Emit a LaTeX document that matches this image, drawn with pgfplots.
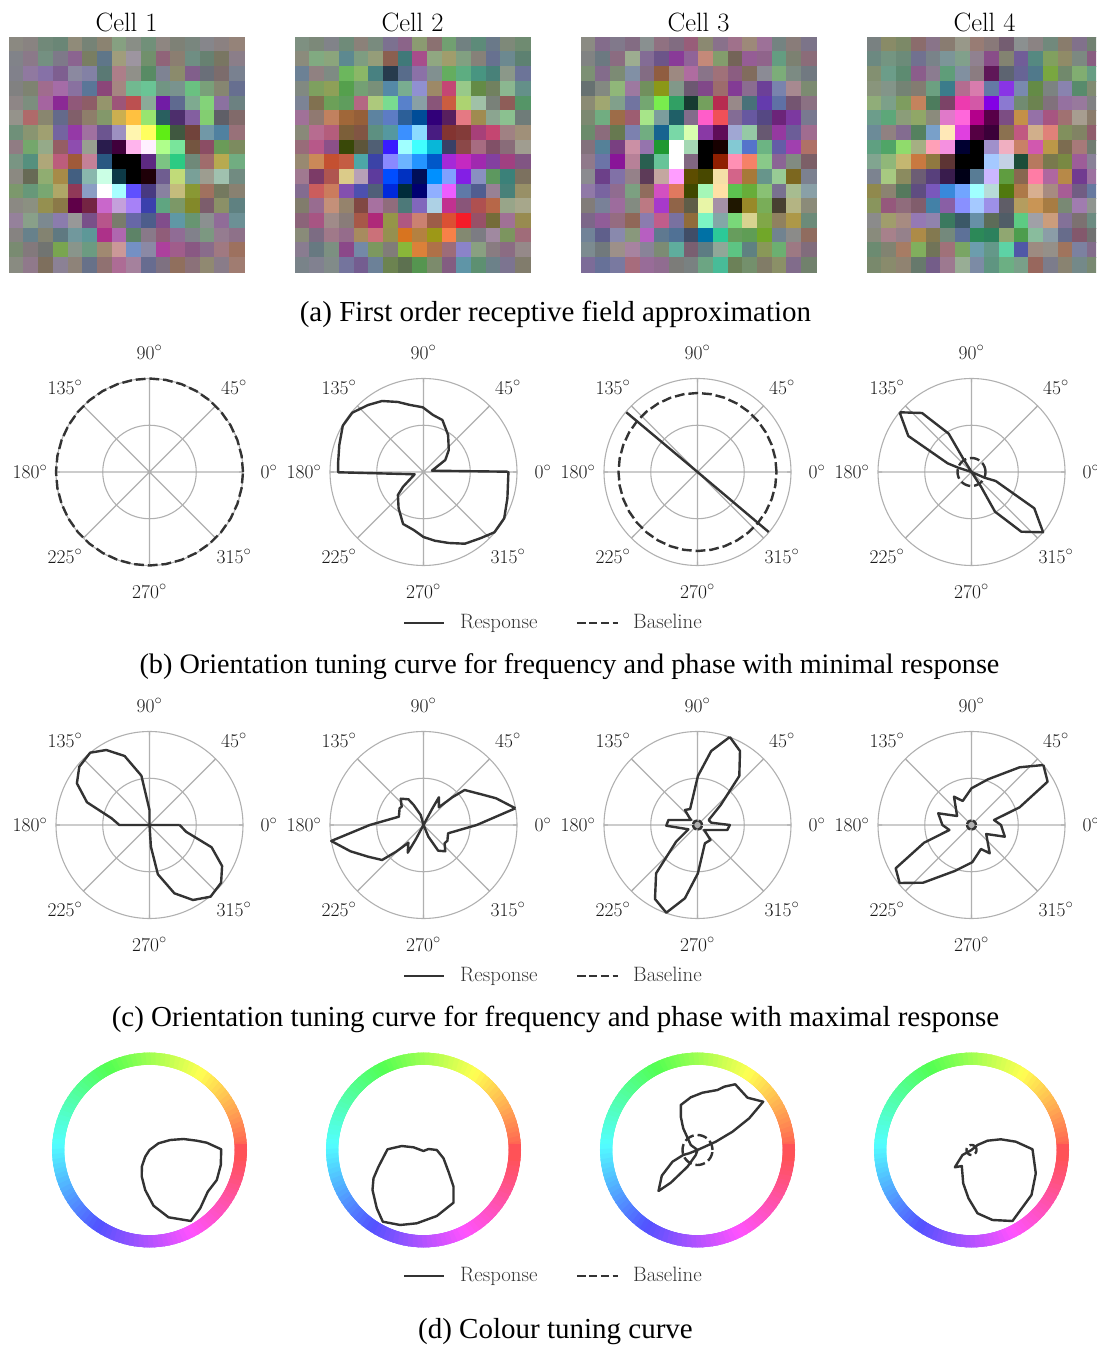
\documentclass[border=0pt]{standalone}
\usepackage{fontspec}
\usepackage{pgfplots}
\usepgfplotslibrary{polar}
\pgfplotsset{compat=1.18}
\newfontfamily\capfont{Liberation Serif}
\definecolor{cv}{HTML}{333333}
\definecolor{gr}{HTML}{B0B0B0}
\pgfplotsset{
 hm/.style={scale only axis,width=235pt,height=235pt,anchor=south west,hide axis,
   xmin=-0.5,xmax=15.5,ymin=-0.5,ymax=15.5,y dir=reverse,clip=false},
 pol/.style={scale only axis,width=187pt,height=187pt,anchor=center,clip=false,
   xmin=0,xmax=360,ymin=0,ymax=93.5,
   xtick={0,45,90,135,180,225,270,315},ytick={46.75},
   xticklabels={},yticklabels={},
   xmajorgrids,ymajorgrids,
   grid style={gr,line width=1.1pt},
   x axis line style={gr,line width=1.1pt},
   y axis line style={draw=none},
   tick align=outside,major tick length=4pt,
   xtick style={gr,line width=1.1pt},ytick style={draw=none}},
 wheel/.style={scale only axis,width=195pt,height=195pt,anchor=center,clip=false,hide axis,
   xmin=0,xmax=360,ymin=0,ymax=97.5,
   colormap={hue}{rgb255=(255,82,82) rgb255=(255,255,82) rgb255=(82,255,82) rgb255=(82,255,255) rgb255=(82,82,255) rgb255=(255,82,255) rgb255=(255,82,82)},
   point meta min=0,point meta max=360},
 resp/.style={cv,line width=2.4pt,line join=round,data cs=cart,no markers},
 base/.style={cv,line width=2.4pt,dash pattern=on 9.8pt off 3.9pt,no markers}
}
\newcommand\cellmap[1]{\addplot[matrix plot*,mesh/cols=16,mesh/rows=16,mesh/ordering=x varies,
  mesh/color input=explicit mathparse,
  point meta={symbolic={\thisrow{r}/99,\thisrow{g}/99,\thisrow{b}/99}}]
  table[row sep=\\,x expr={mod(\coordindex,16)},y expr={floor((\coordindex+0.5)/16)}]{#1};}
\newcommand\labs{\pgfplotsinvokeforeach{0,45,90,135,180,225,270,315}{\node[text=black!90,font=\fontsize{19.5}{21}\selectfont] at (axis cs:##1,119.5) {##1$^\circ$};}}
\newcommand\basec[1]{\addplot[base] coordinates {(0,#1)(10,#1)(20,#1)(30,#1)(40,#1)(50,#1)(60,#1)(70,#1)(80,#1)(90,#1)(100,#1)(110,#1)(120,#1)(130,#1)(140,#1)(150,#1)(160,#1)(170,#1)(180,#1)(190,#1)(200,#1)(210,#1)(220,#1)(230,#1)(240,#1)(250,#1)(260,#1)(270,#1)(280,#1)(290,#1)(300,#1)(310,#1)(320,#1)(330,#1)(340,#1)(350,#1)(360,#1)};}
\newcommand\smallbase{\addplot[cv,line width=2.4pt,no markers,fill=gr,dash pattern=on 6pt off 1pt] coordinates {(0,4.5)(30,4.5)(60,4.5)(90,4.5)(120,4.5)(150,4.5)(180,4.5)(210,4.5)(240,4.5)(270,4.5)(300,4.5)(330,4.5)(360,4.5)};}
\newcommand\wring{\addplot[mesh,line width=12pt,line cap=rect,point meta=x] coordinates {(0,91.2)(3,91.2)(6,91.2)(9,91.2)(12,91.2)(15,91.2)(18,91.2)(21,91.2)(24,91.2)(27,91.2)(30,91.2)(33,91.2)(36,91.2)(39,91.2)(42,91.2)(45,91.2)(48,91.2)(51,91.2)(54,91.2)(57,91.2)(60,91.2)(63,91.2)(66,91.2)(69,91.2)(72,91.2)(75,91.2)(78,91.2)(81,91.2)(84,91.2)(87,91.2)(90,91.2)(93,91.2)(96,91.2)(99,91.2)(102,91.2)(105,91.2)(108,91.2)(111,91.2)(114,91.2)(117,91.2)(120,91.2)(123,91.2)(126,91.2)(129,91.2)(132,91.2)(135,91.2)(138,91.2)(141,91.2)(144,91.2)(147,91.2)(150,91.2)(153,91.2)(156,91.2)(159,91.2)(162,91.2)(165,91.2)(168,91.2)(171,91.2)(174,91.2)(177,91.2)(180,91.2)(183,91.2)(186,91.2)(189,91.2)(192,91.2)(195,91.2)(198,91.2)(201,91.2)(204,91.2)(207,91.2)(210,91.2)(213,91.2)(216,91.2)(219,91.2)(222,91.2)(225,91.2)(228,91.2)(231,91.2)(234,91.2)(237,91.2)(240,91.2)(243,91.2)(246,91.2)(249,91.2)(252,91.2)(255,91.2)(258,91.2)(261,91.2)(264,91.2)(267,91.2)(270,91.2)(273,91.2)(276,91.2)(279,91.2)(282,91.2)(285,91.2)(288,91.2)(291,91.2)(294,91.2)(297,91.2)(300,91.2)(303,91.2)(306,91.2)(309,91.2)(312,91.2)(315,91.2)(318,91.2)(321,91.2)(324,91.2)(327,91.2)(330,91.2)(333,91.2)(336,91.2)(339,91.2)(342,91.2)(345,91.2)(348,91.2)(351,91.2)(354,91.2)(357,91.2)(360,91.2)};}
\newcommand\legendat[1]{%
 \draw[cv,line width=2.4pt] (404pt,#1pt)--(444pt,#1pt);
 \node[anchor=mid west,inner sep=0pt,text=cv,font=\fontsize{20.8}{22}\selectfont] at (460pt,#1pt-3.5pt) {Response};
 \draw[cv,line width=2.4pt,dash pattern=on 8.5pt off 3.4pt] (577pt,#1pt)--(618pt,#1pt);
 \node[anchor=mid west,inner sep=0pt,text=cv,font=\fontsize{20.8}{22}\selectfont] at (633pt,#1pt-3.5pt) {Baseline};}
\newcommand\capt[4]{\node[font=\capfont\fontsize{#4}{30}\selectfont,inner sep=0pt] at (#1pt,#2pt) {#3};}
\begin{document}
\begin{tikzpicture}
\useasboundingbox (0,0) rectangle (1096pt,1345pt);
\clip (0,0) rectangle (1096pt,1345pt);
\foreach \x/\t in {126.5/Cell 1,412.5/Cell 2,698.5/Cell 3,984.5/Cell 4}
  \node[font=\fontsize{26.5}{28}\selectfont] at (\x pt,1323pt) {\t};

\begin{axis}[hm,at={(9pt,1073pt)}]
\cellmap{r g b\\
54 53 50\\53 51 50\\44 53 47\\41 52 46\\56 54 47\\46 51 46\\54 51 44\\52 62 50\\53 55 52\\44 56 47\\55 52 50\\49 50 46\\47 52 49\\52 52 54\\54 50 50\\58 51 47\\
50 51 53\\54 47 53\\45 56 50\\49 47 53\\54 39 56\\47 49 38\\37 46 53\\62 61 48\\61 58 62\\44 56 42\\56 39 47\\54 49 44\\43 55 51\\40 50 44\\47 46 38\\54 49 53\\
50 50 54\\56 47 62\\52 44 65\\49 37 56\\54 53 62\\51 50 64\\35 47 45\\67 49 53\\56 56 53\\34 54 39\\49 51 57\\54 54 42\\50 37 54\\41 43 47\\48 42 42\\47 50 56\\
50 50 50\\49 51 44\\62 42 55\\64 42 65\\53 44 62\\35 46 59\\54 27 47\\64 52 50\\44 72 56\\41 76 58\\44 58 51\\47 57 55\\41 75 50\\47 62 47\\52 52 44\\40 43 56\\
55 52 52\\48 55 49\\64 39 62\\54 16 58\\56 34 47\\55 36 40\\58 58 42\\61 33 47\\73 31 31\\54 66 59\\44 11 64\\37 41 56\\49 66 56\\51 82 47\\54 44 62\\42 50 50\\
58 57 54\\68 41 41\\53 52 43\\39 41 54\\50 37 41\\55 49 41\\51 59 41\\79 68 31\\99 75 25\\59 89 43\\16 37 37\\30 18 42\\51 37 62\\51 80 44\\37 37 40\\50 41 41\\
43 56 47\\53 58 44\\62 62 44\\45 39 62\\58 22 65\\62 44 62\\42 33 56\\61 56 75\\99 95 68\\99 99 37\\37 92 8\\25 34 25\\44 26 23\\44 59 65\\31 50 62\\59 44 47\\
56 48 51\\45 65 42\\58 66 53\\58 36 39\\55 30 68\\59 62 56\\16 11 30\\25 0 23\\99 70 92\\99 93 99\\68 99 54\\47 89 60\\45 33 25\\54 30 39\\41 60 34\\48 54 37\\
47 58 51\\33 56 49\\68 65 47\\73 36 48\\62 35 22\\76 50 59\\16 34 50\\0 0 0\\0 0 0\\36 16 50\\48 76 51\\17 79 51\\43 53 47\\62 42 42\\71 66 31\\44 67 50\\
54 53 50\\40 41 33\\56 67 44\\65 54 28\\26 37 50\\53 71 67\\79 99 89\\5 22 27\\0 0 0\\12 0 3\\43 36 56\\75 85 47\\47 62 59\\61 61 56\\62 75 68\\44 54 50\\
48 59 42\\40 59 47\\47 65 44\\68 65 40\\56 22 34\\54 61 76\\99 99 99\\65 99 99\\37 31 99\\28 22 50\\53 50 62\\76 73 48\\53 59 20\\62 44 37\\45 47 37\\53 50 44\\
54 53 51\\54 56 50\\58 56 31\\54 47 28\\37 0 28\\45 14 26\\78 40 79\\76 62 85\\65 50 96\\23 25 67\\37 64 50\\48 59 40\\51 53 16\\48 36 42\\54 56 40\\37 50 50\\
58 50 60\\53 62 53\\48 53 56\\54 48 67\\59 59 59\\47 31 53\\71 33 54\\47 48 42\\40 40 65\\30 36 54\\50 30 54\\37 59 64\\40 58 44\\54 56 56\\56 42 59\\42 56 58\\
52 51 50\\40 50 54\\51 51 44\\37 47 50\\44 59 61\\36 59 59\\67 19 53\\68 40 68\\36 51 40\\53 47 53\\56 36 47\\56 42 58\\50 50 54\\48 59 50\\58 48 56\\55 44 53\\
47 54 44\\51 47 48\\44 45 44\\47 64 31\\53 58 54\\42 60 50\\62 53 44\\79 59 59\\45 56 76\\54 53 64\\67 25 61\\62 36 54\\53 34 51\\53 42 54\\62 47 50\\61 44 37\\
53 54 50\\56 47 54\\49 43 36\\54 50 58\\55 51 47\\40 44 53\\56 44 44\\67 42 58\\64 50 61\\40 42 56\\49 44 50\\56 43 36\\54 44 47\\56 53 44\\53 48 53\\62 48 44\\
}
\end{axis}
\begin{axis}[hm,at={(295pt,1073pt)}]
\cellmap{r g b\\
49 56 50\\48 53 47\\50 51 53\\43 54 47\\54 50 47\\47 54 49\\48 44 56\\54 39 53\\54 60 44\\54 44 44\\44 62 44\\44 50 50\\36 54 47\\41 47 53\\49 53 47\\43 54 44\\
54 54 48\\50 66 50\\54 64 48\\36 53 56\\49 61 50\\58 61 47\\54 37 31\\25 47 47\\65 30 54\\56 65 50\\62 61 42\\50 62 50\\52 50 47\\40 44 56\\42 53 56\\36 50 44\\
42 50 58\\56 50 50\\49 54 51\\42 71 36\\54 71 40\\28 50 50\\15 23 30\\34 42 54\\54 44 65\\50 56 56\\39 67 37\\36 67 50\\28 58 50\\28 50 47\\54 59 53\\42 45 59\\
50 53 50\\49 62 37\\55 62 34\\33 62 30\\45 62 45\\47 56 47\\33 53 65\\47 67 56\\56 56 81\\61 53 40\\76 27 45\\59 78 53\\39 54 27\\44 50 37\\54 71 56\\39 56 53\\
48 51 58\\50 44 31\\42 62 34\\37 61 36\\70 40 51\\67 78 48\\47 85 56\\34 50 79\\53 62 64\\53 33 47\\79 36 25\\67 82 44\\62 75 65\\47 50 47\\55 36 34\\33 58 40\\
62 44 59\\56 47 44\\75 50 37\\62 40 22\\58 37 22\\36 51 62\\36 48 76\\17 37 59\\0 30 59\\19 0 47\\34 12 37\\89 47 51\\62 54 31\\54 64 56\\54 75 56\\43 48 47\\
53 53 47\\71 42 56\\70 36 48\\48 37 22\\50 33 26\\36 56 50\\33 59 62\\23 56 99\\54 85 99\\28 11 50\\51 20 19\\51 23 22\\65 25 47\\76 27 44\\62 50 51\\62 56 47\\
59 42 47\\71 34 53\\54 31 53\\22 28 3\\36 33 22\\31 37 45\\22 11 99\\62 99 99\\25 99 99\\3 71 84\\22 25 40\\54 28 28\\65 42 50\\50 31 40\\53 42 47\\62 61 56\\
59 53 44\\79 53 34\\76 31 19\\76 36 26\\30 65 65\\23 26 65\\53 53 99\\42 70 99\\14 58 99\\0 34 78\\64 16 84\\76 16 75\\62 16 68\\51 25 62\\62 25 50\\50 33 51\\
62 47 56\\48 23 40\\68 33 31\\85 79 53\\71 62 71\\36 23 61\\0 30 99\\0 19 75\\0 6 34\\0 56 99\\50 62 99\\51 12 89\\53 56 75\\36 59 37\\23 50 47\\48 44 37\\
51 42 56\\79 36 36\\79 48 36\\51 31 68\\30 31 68\\31 37 47\\0 16 85\\0 17 23\\0 0 44\\56 68 99\\92 36 99\\37 47 65\\31 36 56\\59 50 58\\28 50 47\\59 56 40\\
50 48 42\\59 42 56\\76 56 47\\58 51 42\\50 28 26\\65 44 62\\56 42 48\\30 47 47\\50 40 73\\67 81 89\\75 19 56\\53 33 47\\68 31 31\\71 40 28\\59 64 53\\65 65 54\\
54 39 47\\65 33 51\\62 54 53\\53 48 47\\65 34 28\\68 16 47\\58 58 28\\68 34 50\\79 50 44\\61 36 28\\85 31 20\\95 11 16\\59 31 40\\45 42 22\\62 44 58\\59 54 31\\
53 54 47\\48 42 51\\62 47 53\\58 42 54\\65 54 37\\79 44 47\\58 56 31\\84 45 12\\70 50 25\\61 59 9\\96 50 28\\51 53 44\\48 48 51\\62 53 62\\48 58 37\\62 42 47\\
53 48 56\\40 47 50\\48 56 50\\54 28 53\\45 53 65\\48 59 37\\50 48 47\\53 71 22\\85 50 22\\68 44 28\\61 42 47\\54 51 78\\53 62 50\\53 48 50\\54 42 51\\58 53 53\\
47 51 53\\50 50 56\\50 54 53\\45 45 61\\45 36 56\\42 50 59\\42 51 31\\36 44 31\\33 58 31\\48 54 42\\51 36 50\\37 58 65\\36 56 44\\42 50 53\\48 45 56\\50 48 42\\
}
\end{axis}
\begin{axis}[hm,at={(581pt,1073pt)}]
\cellmap{r g b\\
54 54 51\\51 42 54\\50 47 54\\51 42 51\\53 56 56\\56 44 50\\50 42 50\\59 36 47\\54 53 44\\53 44 54\\62 44 54\\61 53 47\\61 44 59\\45 51 50\\53 48 47\\48 45 53\\
50 51 51\\42 47 50\\54 42 50\\61 67 56\\51 42 58\\42 33 53\\53 23 59\\56 39 59\\76 53 47\\51 61 42\\45 39 34\\58 36 58\\56 39 54\\39 61 50\\48 50 44\\54 42 47\\
48 56 45\\51 42 54\\48 54 45\\50 56 64\\51 42 51\\56 36 25\\61 53 50\\68 42 62\\53 45 53\\62 44 47\\54 36 50\\50 42 36\\54 54 58\\48 67 47\\48 54 51\\44 47 50\\
40 44 44\\51 53 50\\56 71 47\\61 47 62\\44 56 36\\54 59 9\\50 59 53\\42 34 44\\50 28 53\\61 42 42\\51 23 58\\54 42 56\\42 25 59\\47 51 67\\65 53 56\\48 54 44\\
54 54 45\\62 65 44\\50 62 54\\44 45 62\\45 65 44\\47 92 30\\19 62 39\\9 23 19\\45 62 36\\71 17 31\\59 53 53\\28 44 47\\39 23 67\\37 44 64\\45 33 44\\54 44 51\\
48 53 44\\44 67 50\\61 42 28\\61 36 44\\65 89 53\\48 61 61\\12 37 40\\51 42 54\\99 36 78\\93 31 34\\51 42 58\\40 34 62\\33 28 51\\42 14 47\\48 22 62\\47 47 56\\
42 54 42\\54 42 48\\40 47 31\\48 50 68\\44 67 50\\9 39 56\\47 84 65\\84 99 68\\53 22 64\\37 5 34\\62 65 82\\58 78 64\\40 34 44\\58 22 62\\42 36 59\\62 42 56\\
51 44 48\\33 50 59\\47 25 50\\79 56 64\\58 45 67\\12 59 19\\99 99 99\\64 84 70\\0 0 0\\9 0 0\\51 78 82\\33 45 79\\42 70 51\\39 36 65\\62 25 68\\68 44 40\\
56 47 54\\42 45 65\\53 8 59\\71 50 59\\16 37 31\\40 76 59\\99 99 99\\50 40 50\\0 0 0\\56 12 0\\99 56 70\\95 50 40\\53 78 53\\54 39 58\\50 54 50\\48 37 40\\
54 54 56\\42 25 53\\50 44 65\\58 50 53\\36 23 34\\76 65 62\\99 61 99\\36 30 0\\28 28 0\\95 87 65\\82 39 53\\65 47 22\\40 58 54\\59 79 58\\48 40 12\\48 50 56\\
56 47 65\\47 39 62\\56 42 56\\48 62 50\\56 42 36\\82 31 75\\87 47 37\\25 28 0\\64 96 71\\99 87 64\\36 75 31\\40 67 22\\53 75 45\\47 44 56\\65 73 56\\53 62 65\\
50 48 47\\47 50 59\\61 42 61\\51 54 50\\73 47 51\\65 22 79\\56 39 28\\37 36 28\\90 95 65\\64 56 65\\12 9 0\\59 53 16\\47 67 34\\28 25 19\\70 70 51\\54 54 47\\
48 40 53\\56 36 59\\58 42 50\\56 40 34\\54 48 68\\75 36 54\\47 44 62\\56 42 23\\48 95 76\\51 65 65\\47 84 47\\84 82 56\\50 65 28\\56 50 37\\67 59 28\\42 54 47\\
44 51 59\\37 37 54\\53 53 67\\53 59 48\\71 37 75\\37 47 56\\31 44 58\\25 30 40\\0 44 64\\17 78 59\\40 61 36\\37 61 33\\44 65 16\\44 51 56\\54 54 53\\56 42 37\\
48 54 56\\44 47 48\\61 56 53\\65 51 62\\53 51 59\\48 54 45\\37 67 61\\47 37 44\\36 48 51\\56 65 59\\36 76 51\\37 50 50\\53 59 34\\42 68 44\\61 47 51\\50 42 48\\
48 42 59\\40 44 59\\47 47 62\\65 42 48\\59 42 59\\56 42 56\\48 48 47\\47 50 50\\42 64 51\\28 73 59\\42 50 34\\45 56 42\\50 48 40\\54 56 40\\50 42 54\\44 50 42\\
}
\end{axis}
\begin{axis}[hm,at={(867pt,1073pt)}]
\cellmap{r g b\\
47 50 50\\53 54 40\\48 53 40\\54 42 42\\53 45 53\\53 48 44\\59 59 53\\59 48 45\\53 47 47\\45 36 44\\54 56 56\\54 51 51\\44 53 48\\53 48 42\\50 44 54\\44 50 44\\
42 53 50\\45 58 50\\42 54 47\\44 44 56\\47 51 53\\48 58 59\\50 62 54\\56 50 56\\53 30 53\\51 51 44\\44 36 59\\33 53 50\\50 62 37\\56 54 40\\48 53 50\\53 36 50\\
51 56 44\\42 61 53\\36 54 44\\54 36 54\\54 48 56\\37 61 47\\50 56 62\\54 48 50\\37 9 34\\36 39 44\\40 39 58\\31 47 54\\47 65 25\\44 53 42\\50 67 44\\40 61 51\\
53 58 48\\51 58 53\\45 51 45\\51 48 44\\42 62 50\\23 48 54\\70 42 56\\84 48 67\\39 47 64\\53 20 89\\47 53 68\\39 54 27\\48 51 50\\53 51 68\\34 54 42\\50 54 44\\
56 67 47\\48 62 53\\49 61 37\\76 51 36\\30 48 36\\48 26 40\\92 23 68\\82 34 65\\51 0 89\\54 47 81\\44 54 44\\42 51 31\\50 44 48\\58 44 62\\59 47 61\\50 50 51\\
42 61 54\\36 65 47\\54 61 47\\56 65 40\\54 54 48\\87 47 78\\99 40 85\\70 0 54\\34 0 28\\48 30 51\\76 56 28\\58 44 65\\65 33 50\\62 44 44\\65 61 56\\54 48 42\\
42 54 59\\56 50 50\\51 42 56\\33 50 37\\47 62 78\\99 90 71\\87 25 87\\33 0 26\\23 0 22\\54 44 31\\75 34 50\\81 68 54\\87 50 47\\50 56 36\\50 51 39\\56 36 42\\
37 62 50\\31 64 40\\56 85 42\\64 68 51\\99 62 71\\95 56 87\\0 0 19\\0 0 0\\62 56 79\\93 68 75\\78 50 40\\81 34 68\\73 59 28\\48 42 31\\65 47 47\\44 48 44\\
50 64 56\\56 71 47\\76 71 44\\78 47 25\\56 47 25\\36 20 20\\0 0 0\\0 0 0\\64 78 99\\76 81 89\\11 30 22\\71 47 37\\47 47 30\\47 53 26\\61 36 59\\53 50 59\\
48 51 56\\65 78 50\\54 54 37\\42 36 45\\34 25 48\\22 11 30\\0 0 9\\34 48 58\\79 71 99\\37 61 25\\53 40 31\\99 48 64\\68 40 62\\71 53 28\\44 23 56\\61 44 62\\
56 53 30\\54 51 44\\33 47 36\\37 30 50\\47 34 73\\22 53 85\\44 64 99\\62 99 99\\71 85 84\\31 47 6\\67 47 28\\84 68 56\\65 54 50\\65 36 58\\44 36 51\\40 47 62\\
53 58 36\\58 34 48\\56 42 48\\50 36 42\\26 50 65\\53 37 64\\53 56 99\\64 78 99\\61 56 90\\37 36 40\\70 61 37\\78 58 33\\65 48 26\\47 53 45\\62 48 68\\56 58 56\\
54 54 54\\62 61 42\\65 54 50\\58 47 70\\56 51 67\\23 47 37\\23 34 40\\40 56 65\\36 42 34\\31 36 40\\36 79 51\\62 62 65\\79 61 48\\51 44 59\\48 44 44\\42 54 50\\
53 54 48\\65 50 54\\58 50 54\\67 54 28\\51 47 31\\45 53 48\\36 44 59\\17 53 34\\17 50 36\\56 65 44\\30 61 30\\53 73 61\\54 61 65\\40 42 54\\51 34 42\\44 44 44\\
42 54 44\\50 51 44\\65 48 39\\50 68 36\\44 45 34\\62 44 47\\47 64 39\\42 61 67\\39 59 53\\36 82 64\\31 34 65\\61 54 50\\58 56 53\\62 45 36\\48 50 62\\51 42 54\\
47 53 42\\53 54 42\\56 51 44\\40 47 42\\45 36 53\\61 47 56\\59 67 58\\48 54 64\\37 58 50\\42 68 51\\47 62 53\\59 40 36\\48 48 54\\53 51 44\\45 53 53\\47 53 44\\
}
\end{axis}
\capt{555.5}{1031}{(a) First order receptive field approximation}{29}

% row b
\begin{polaraxis}[pol,at={(149.5pt,873pt)}]
\labs \basec{93.5}
\end{polaraxis}
\begin{polaraxis}[pol,at={(423.5pt,873pt)}]
\labs
\addplot[resp] coordinates {(84.2,0.3)(8.4,1.3)(21.8,12)(25.3,22)(24.6,37)(18.9,52)(9.5,57)(-0.7,64.7)(-13.3,67)(-25.6,70)(-41.4,71)(-55.4,67)(-71.2,59.3)(-80.7,46.3)(-84.2,27)(-85.3,10.3)(-85.3,-0.3)(-8.8,-2.3)(-20.4,-14.7)(-25.6,-23)(-24.9,-36.3)(-20.4,-52)(-9.8,-58)(0,-65)(11.2,-68.7)(25.3,-71)(41.4,-71.7)(56.8,-66.3)(70.9,-60.3)(80.7,-46.3)(83.9,-26.3)(84.9,-0.3)(84.2,0.3)};
\end{polaraxis}
\begin{polaraxis}[pol,at={(697.5pt,873pt)}]
\labs \basec{79}
\addplot[resp] coordinates {(-71.2,59.7)(0.01,0.01)(71.2,-60)};
\end{polaraxis}
\begin{polaraxis}[pol,at={(971.5pt,873pt)}]
\labs \basec{14}
\addplot[resp] coordinates {(-71.9,59.7)(-49.5,59)(-22.8,38.3)(-8.1,13)(0.01,0.01)(9.5,-14.7)(23.5,-39.7)(49.8,-59.7)(71.6,-60.3)(62.8,-36.3)(24.2,-9)(13,-5.7)(0.01,0.01)(-13.3,4.3)(-23.9,8.7)(-63.2,36)(-71.9,59.7)};
\end{polaraxis}
\legendat{722}
\capt{569.5}{678}{(b) Orientation tuning curve for frequency and phase with minimal response}{28.2}

% row c
\begin{polaraxis}[pol,at={(149.5pt,520pt)}]
\labs
\addplot[resp] coordinates {(30.2,0.01)(36.5,-6.7)(62.1,-22.3)(72.6,-41)(71.6,-57.7)(61.1,-71.7)(43.5,-75)(24.9,-68.3)(8.4,-49.3)(1.4,-21.7)(0.01,0.01)(0.01,15)(-8.1,49.3)(-24.9,69)(-43.2,75)(-59.3,72.3)(-70.2,58.3)(-72.6,41.7)(-62.5,22.7)(-37.9,6.7)(-30.2,0.01)(0.01,0.01)(30.2,0.01)};
\end{polaraxis}
\begin{polaraxis}[pol,at={(423.5pt,520pt)}]
\labs
\addplot[resp] coordinates {(91.9,16.7)(72.6,26.7)(60.4,30)(41.1,35)(28.8,27.7)(15.4,17.7)(15.4,27.7)(8.4,15.7)(0.01,0.01)(-2.8,10)(-9.8,20)(-15.1,25.7)(-22.8,26.3)(-21.8,18.3)(-23.9,16.7)(-24.6,8.3)(-53.7,0.01)(-92.3,-16)(-73,-26.3)(-55.4,-31.7)(-41.4,-35)(-27.4,-26.7)(-15.1,-17.7)(-15.8,-27.7)(-8.1,-15)(0.01,0.01)(4.9,-11.7)(14.7,-25.7)(21.8,-26.3)(21.1,-18.3)(23.9,-15.7)(24.6,-8.3)(53.3,0.01)(91.9,16.7)};
\end{polaraxis}
\begin{polaraxis}[pol,at={(697.5pt,520pt)}]
\labs
\smallbase
\addplot[resp] coordinates {(32.3,88)(42.5,74)(41.8,49)(23.2,20)(11.2,5)(13.7,2.3)(32.3,0.01)(29.8,-5)(6.7,-5)(13,-15)(7.4,-18.3)(0.4,-48.3)(-12.6,-73.3)(-31.2,-87.7)(-42.5,-74)(-41.4,-48.3)(-21.4,-16.7)(-9.1,-4.3)(-31.2,-0.7)(-29.1,5)(-6.7,5)(-12.6,15)(-7.4,16)(0.4,49)(13.7,74)(32.3,88)};
\end{polaraxis}
\begin{polaraxis}[pol,at={(971.5pt,520pt)}]
\labs
\smallbase
\addplot[resp] coordinates {(71.9,60)(76.1,43.3)(48.1,17.7)(22.5,5)(29.5,0.01)(33.3,-11.7)(14.7,-9)(18.2,-28.3)(9.5,-24)(0.7,-37.3)(-16.8,-46)(-48.4,-57.7)(-71.9,-58)(-75.8,-43.3)(-47.4,-17.7)(-22.1,-5)(-29.1,0.01)(-33.3,11.7)(-14.4,9)(-17.5,28.3)(-8.8,24)(0.01,36.7)(16.5,45.7)(48.1,57.7)(71.9,60)};
\end{polaraxis}
\legendat{369}
\capt{555.5}{326}{(c) Orientation tuning curve for frequency and phase with maximal response}{29}

% row d
\begin{polaraxis}[wheel,at={(149.5pt,195pt)}]
\wring
\addplot[resp] coordinates {(0.01,0.01)(-4.3,-6.7)(-7.7,-16.7)(-7.7,-26.7)(-4.3,-40)(4,-55.7)(19,-67.3)(41.3,-71)(50.7,-58.3)(58.3,-41.7)(67.3,-30)(71.3,-15)(71.7,0.7)(57.3,7.3)(47.3,9.3)(34,11)(20.7,10)(9,6.7)(0.01,0.01)};
\end{polaraxis}
\begin{polaraxis}[wheel,at={(423.5pt,195pt)}]
\wring
\addplot[resp] coordinates {(-10,2.7)(-21.7,4)(-36,0.7)(-45,-16.7)(-50,-28.3)(-51,-40)(-46.7,-58.3)(-40.7,-71.7)(-23.3,-75)(-6.7,-73.3)(13.3,-66)(30,-52.7)(30,-36.7)(25,-21.7)(20,-8.3)(13.3,0.01)(5,1)(0.01,-1)(-10,2.7)};
\end{polaraxis}
\begin{polaraxis}[wheel,at={(697.5pt,195pt)}]
\wring \basec{15}
\addplot[resp] coordinates {(0.01,0.01)(-8.3,-3.3)(-14.3,-5)(-25,-11.7)(-35.7,-25.7)(-39,-41)(-26.7,-32.7)(-10,-16.7)(-1.7,-5)(0.01,0.01)(-6.7,5)(-14.3,21.7)(-16.7,33.3)(-16.7,45)(-6.7,52.7)(5,57.3)(20,60)(26.7,63.3)(37.7,65.7)(50,52.3)(65.7,48.3)(51.7,31.7)(35,18.3)(18.3,8.3)(0.01,0.01)};
\end{polaraxis}
\begin{polaraxis}[wheel,at={(971.5pt,195pt)}]
\wring \basec{5}
\addplot[resp] coordinates {(0.01,0.01)(-9,-5)(-16.7,-17.3)(-9.7,-16)(-8.3,-33.3)(-3,-48.3)(6,-63.3)(21,-70)(41,-71)(60,-45)(64.3,-23.3)(61,0.7)(44.3,8.3)(29.3,10.7)(16,9.3)(6,5)(0.01,0.01)};
\end{polaraxis}
\legendat{69}
\capt{555.5}{13}{(d) Colour tuning curve}{29}
\end{tikzpicture}
\end{document}
